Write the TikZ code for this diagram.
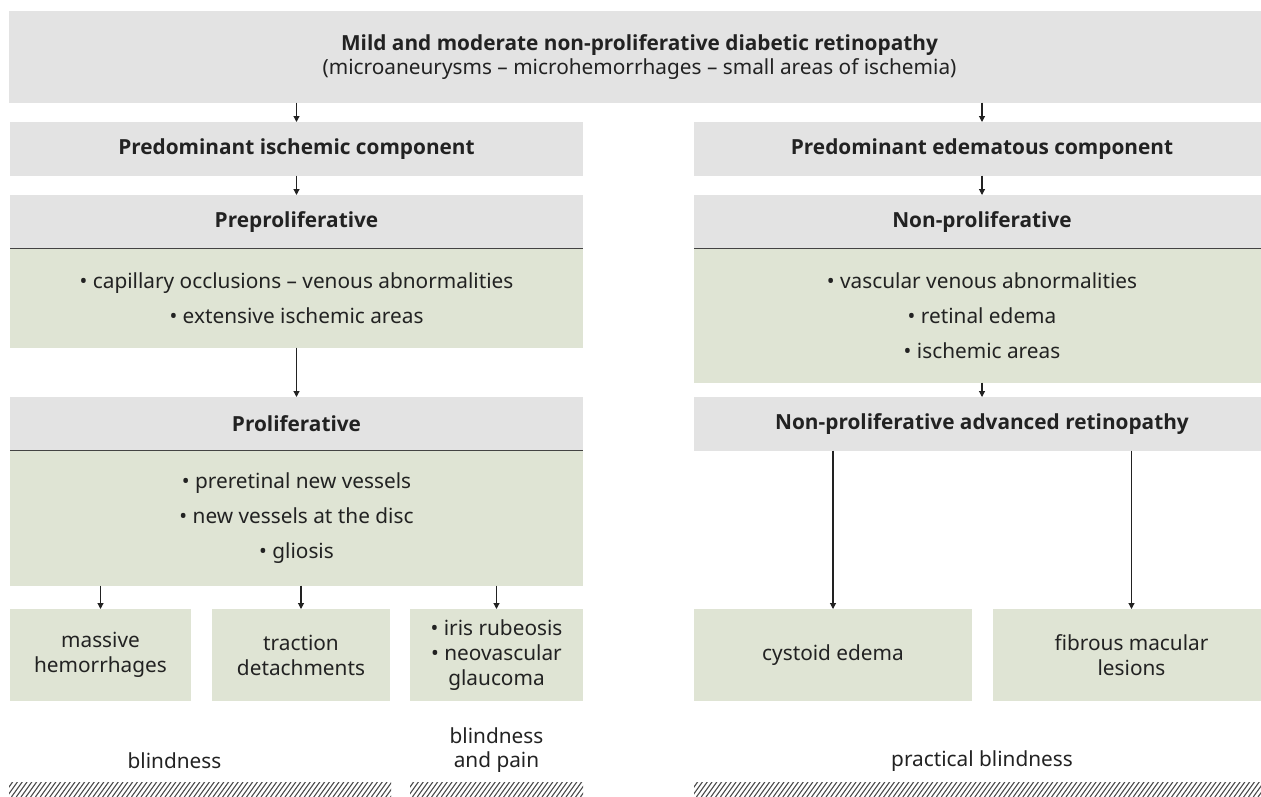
\documentclass[tikz,border=0pt]{standalone}
\usepackage{fontspec}
\setmainfont{Noto Sans}
\newfontfamily\hfont{Open Sans}
\usetikzlibrary{arrows.meta}
\definecolor{boxgray}{HTML}{E3E3E3}
\definecolor{boxgreen}{HTML}{DFE4D4}
\definecolor{txt}{HTML}{222222}
\definecolor{hatchc}{HTML}{4A4A4A}
\begin{document}
\begin{tikzpicture}[x=1pt,y=-1pt,
  base/.style={inner sep=0pt, outer sep=0pt, text=txt, align=center},
  hdr/.style={base, fill=boxgray, font=\fontsize{20.8}{25}\selectfont\hfont\bfseries},
  body/.style={base, fill=boxgreen, font=\fontsize{20.8}{35}\selectfont},
  leaf/.style={base, fill=boxgreen, font=\fontsize{20.8}{25}\selectfont},
  lbl/.style={base, font=\fontsize{20.8}{24}\selectfont},
  arr/.style={draw=txt, line width=1.1pt, -{Triangle[length=6pt,width=6pt]}},
  divider/.style={draw=txt!85, line width=1.5pt},
  hatchline/.style={draw=hatchc, line width=1.1pt},
]
\useasboundingbox (0,0) rectangle (1261,796);
\clip (0,0) rectangle (1261,796);

% top
\node[hdr, minimum width=1261, minimum height=91.7] (top) at (639.5,56.85)
  {Mild and moderate non-proliferative diabetic retinopathy\\[-1pt]
   \normalfont\fontsize{20.8}{25}\selectfont (microaneurysms -- microhemorrhages -- small areas of ischemia)};

% left column
\node[hdr, minimum width=573, minimum height=53.7] (isch) at (296.5,148.85) {Predominant ischemic component};
\node[hdr, minimum width=573, minimum height=53.3] (prepH) at (296.5,221.65) {Preproliferative};
\node[body, minimum width=573, minimum height=99.4] (prepB) at (296.5,298) {• capillary occlusions -- venous abnormalities\\ • extensive ischemic areas};
\node[hdr, minimum width=573, minimum height=53.7] (prolH) at (296.5,423.85) {Proliferative};
\node[body, minimum width=573, minimum height=135] (prolB) at (296.5,518.2) {• preretinal new vessels\\ • new vessels at the disc\\ • gliosis};

\node[leaf, minimum width=181, minimum height=92] (b1) at (100.5,655) {massive\\ hemorrhages};
\node[leaf, minimum width=178, minimum height=92] (b2) at (301,655) {traction\\ detachments};
\node[leaf, minimum width=173, minimum height=92] (b3) at (496.5,655) {• iris rubeosis\\ • neovascular\\ glaucoma};

% right column
\node[hdr, minimum width=576, minimum height=53.7] (edem) at (982,148.85) {Predominant edematous component};
\node[hdr, minimum width=576, minimum height=53.3] (nonH) at (982,221.65) {Non-proliferative};
\node[body, minimum width=576, minimum height=134.4] (nonB) at (982,315.5) {• vascular venous abnormalities\\ • retinal edema\\ • ischemic areas};
\node[hdr, minimum width=576, minimum height=53.7] (advH) at (982,423.85) {Non-proliferative advanced retinopathy};

\node[leaf, minimum width=278, minimum height=92] (cyst) at (833,655) {cystoid edema};
\node[leaf, minimum width=277, minimum height=92] (fib) at (1131.5,655) {fibrous macular\\ lesions};

% dividers
\draw[divider] (prepH.south west) -- (prepH.south east);
\draw[divider] (prolH.south west) -- (prolH.south east);
\draw[divider] (nonH.south west) -- (nonH.south east);

% arrows
\draw[arr] (top.south -| isch.north) -- (isch.north);
\draw[arr] (top.south -| edem.north) -- (edem.north);
\draw[arr] (isch.south) -- (prepH.north);
\draw[arr] (prepB.south) -- (prolH.north);
\draw[arr] (edem.south) -- (nonH.north);
\draw[arr] (nonB.south) -- (advH.north);
\draw[arr] (prolB.south -| b1.north) -- (b1.north);
\draw[arr] (prolB.south -| b2.north) -- (b2.north);
\draw[arr] (prolB.south -| b3.north) -- (b3.north);
\draw[arr] (advH.south -| cyst.north) -- (cyst.north);
\draw[arr] (advH.south -| fib.north) -- (fib.north);

% outcome labels
\node[lbl] (l1) at (174.5,761) {blindness};
\node[lbl] (l2) at (496.5,750.5) {blindness\\ and pain};
\node[lbl] (l3) at (982,761) {practical blindness};

% hatched bands
\begin{scope}
  \clip (9,782) rectangle (391,796);
  \foreach \i in {0,...,82} \draw[hatchline] ({9+4.8*\i-12},797) -- ++(11.5,-16);
\end{scope}
\begin{scope}
  \clip (410,782) rectangle (583,796);
  \foreach \i in {0,...,40} \draw[hatchline] ({410+4.8*\i-12},797) -- ++(11.5,-16);
\end{scope}
\begin{scope}
  \clip (694,782) rectangle (1270,796);
  \foreach \i in {0,...,124} \draw[hatchline] ({694+4.8*\i-12},797) -- ++(11.5,-16);
\end{scope}
\end{tikzpicture}
\end{document}
